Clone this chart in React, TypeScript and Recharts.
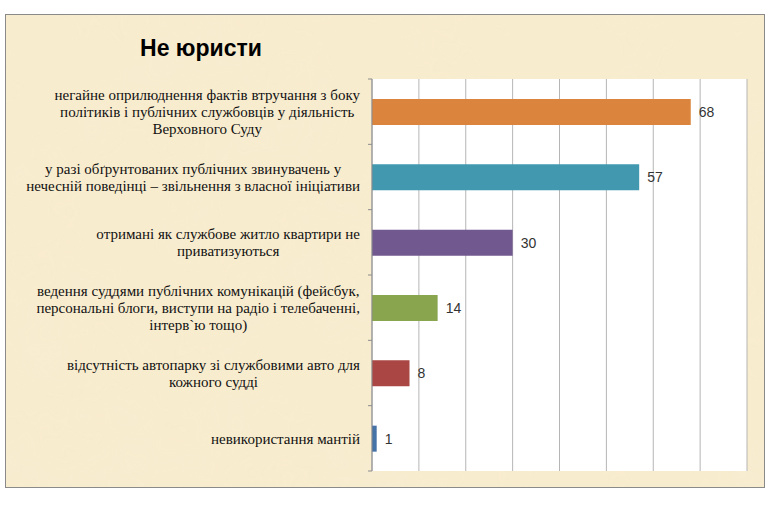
import React from "react";
import { Bar, BarChart, CartesianGrid, Cell, LabelList, XAxis, YAxis } from "recharts";

// categories, in the picture's top-to-bottom order; "\n" marks the line breaks
const categories = [
  "негайне оприлюднення фактів втручання з боку\nполітиків і публічних службовців у діяльність\nВерховного Суду",
  "у разі обґрунтованих публічних звинувачень у\nнечесній поведінці – звільнення з власної ініціативи",
  "отримані як службове житло квартири не\nприватизуються",
  "ведення суддями публічних комунікацій (фейсбук,\nперсональні блоги, виступи на радіо і телебаченні,\nінтерв`ю тощо)",
  "відсутність автопарку зі службовими авто для\nкожного судді",
  "невикористання мантій",
];
const values = [68, 57, 30, 14, 8, 1];
const barColors = ["#DB843D", "#4198AF", "#71588F", "#89A54E", "#AA4643", "#4572A7"];
const xTicks = [0, 10, 20, 30, 40, 50, 60, 70, 80];

const data = categories.map((name, i) => ({ name, value: values[i] }));

const W = 758;
const H = 472;
const MARGIN = { top: 64, right: 17, bottom: 16, left: 6 };
const BAND = (H - MARGIN.top - MARGIN.bottom) / categories.length;

const LABEL_SIZE = 15;
const LABEL_FONT = '"Liberation Serif", serif';
const MAX_LABEL_W = 340;
const LINE_H = 17;

function renderTick(props: any) {
  const { x, y, payload, index } = props;
  const lines = String(payload.value).split("\n");
  const y0 = y - ((lines.length - 1) * LINE_H) / 2;
  // after mount: measure the drawn lines, shrink if too wide, keep the block right-aligned
  const fit = (g: SVGGElement | null) => {
    if (!g) return;
    const texts = Array.from(g.querySelectorAll("text")) as SVGTextElement[];
    const maxW = Math.max(...texts.map((t) => t.getComputedTextLength()));
    if (!isFinite(maxW) || maxW <= 0) return;
    const k = Math.min(1, MAX_LABEL_W / maxW);
    g.setAttribute("transform", `translate(${x - 12 - (maxW * k) / 2},${y0}) scale(${k})`);
  };
  return (
    <g key={index}>
      {index === 0 && (
        <line x1={x - 4} x2={x} y1={y - BAND / 2} y2={y - BAND / 2} stroke="#8c8c8c" />
      )}
      <line x1={x - 4} x2={x} y1={y + BAND / 2} y2={y + BAND / 2} stroke="#8c8c8c" />
      <g ref={fit} transform={`translate(${x - 12 - MAX_LABEL_W / 2},${y0})`}>
        {lines.map((l, i) => (
          <text
            key={i}
            x={0}
            y={i * LINE_H}
            dy="0.35em"
            textAnchor="middle"
            fill="#111"
            fontFamily={LABEL_FONT}
            fontSize={LABEL_SIZE}
          >
            {l}
          </text>
        ))}
      </g>
    </g>
  );
}

export default function App() {
  return (
    <div style={{ position: "absolute", left: 0, top: 0, width: 776, height: 507, background: "#fff" }}>
      <div
        style={{
          position: "absolute",
          left: 5,
          top: 14,
          width: W,
          height: H,
          border: "1px solid #8a8a8a",
          background: "#F8ECCE",
          overflow: "hidden",
        }}
      >
        <svg width={W} height={H} style={{ position: "absolute", left: 0, top: 0 }}>
          <filter id="parch">
            <feTurbulence type="fractalNoise" baseFrequency="0.012" numOctaves={3} seed={4} />
            <feColorMatrix
              type="matrix"
              values="0 0 0 0 0.93  0 0 0 0 0.85  0 0 0 0 0.68  0 0 0 1.1 -0.45"
            />
          </filter>
          <rect width={W} height={H} filter="url(#parch)" opacity={0.55} />
        </svg>
        <div
          style={{
            position: "absolute",
            left: 0,
            top: 20,
            width: 390,
            textAlign: "center",
            fontFamily: '"Liberation Sans", Arial, sans-serif',
            fontWeight: 700,
            fontSize: 23,
            color: "#000",
          }}
        >
          Не юристи
        </div>
        <div style={{ position: "absolute", left: 0, top: 0 }}>
          <BarChart width={W} height={H} data={data} layout="vertical" margin={MARGIN} barSize={26}>
            <CartesianGrid horizontal={false} stroke="#b5b5b5" fill="#fff" fillOpacity={1} />
            <XAxis type="number" domain={[0, 80]} ticks={xTicks} hide />
            <YAxis
              type="category"
              dataKey="name"
              width={360}
              axisLine={{ stroke: "#8c8c8c" }}
              tickLine={false}
              tickSize={0}
              tickMargin={0}
              interval={0}
              tick={renderTick}
            />
            <Bar dataKey="value" isAnimationActive={false}>
              {data.map((_, i) => (
                <Cell key={i} fill={barColors[i]} />
              ))}
              <LabelList
                dataKey="value"
                position="right"
                offset={8}
                fill="#333"
                fontSize={14}
                fontFamily="Liberation Sans"
              />
            </Bar>
          </BarChart>
        </div>
      </div>
    </div>
  );
}
